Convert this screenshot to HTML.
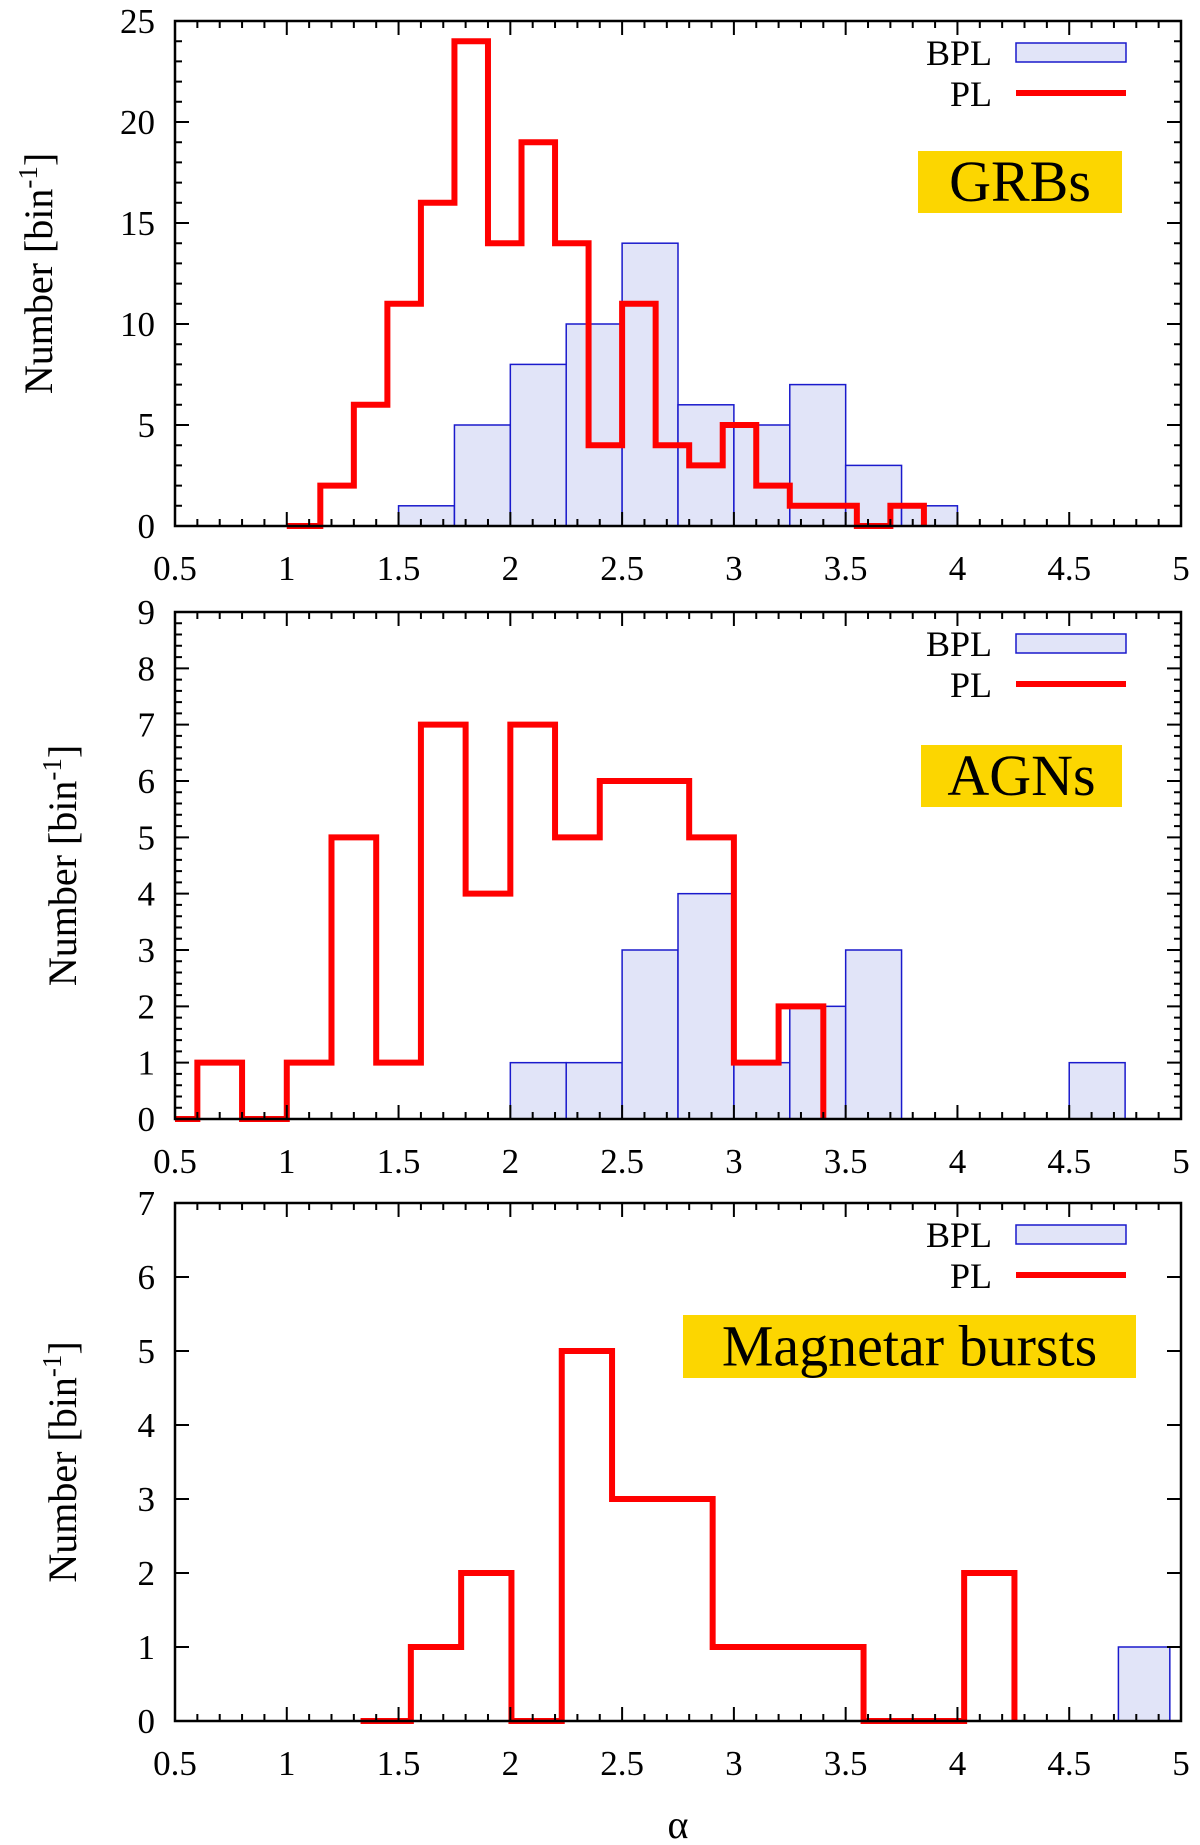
<!DOCTYPE html>
<html><head><meta charset="utf-8"><style>
html,body{margin:0;padding:0;background:#fff}
svg{display:block}
text{font-family:"Liberation Serif",serif;fill:#000}
</style></head><body>
<svg id="chart" width="1200" height="1845" viewBox="0 0 1200 1845" xmlns="http://www.w3.org/2000/svg"></svg>
<script>
// GRBs
const grbPlEdges = [1.0,1.15,1.3,1.45,1.6,1.75,1.9,2.05,2.2,2.35,2.5,2.65,2.8,2.95,3.1,3.25,3.4,3.55,3.7,3.85];
const grbPlCounts = [0,2,6,11,16,24,14,19,14,4,11,4,3,5,2,1,1,0,1];
const grbBplEdges = [1.5,1.75,2.0,2.25,2.5,2.75,3.0,3.25,3.5,3.75,4.0];
const grbBplCounts = [1,5,8,10,14,6,5,7,3,1];
// AGNs
const agnPlEdges = [0.4,0.6,0.8,1.0,1.2,1.4,1.6,1.8,2.0,2.2,2.4,2.6,2.8,3.0,3.2,3.4];
const agnPlCounts = [0,1,0,1,5,1,7,4,7,5,6,6,5,1,2];
const agnBplEdges = [2.0,2.25,2.5,2.75,3.0,3.25,3.5,3.75,4.0,4.25,4.5,4.75];
const agnBplCounts = [1,1,3,4,1,2,3,0,0,0,1];
// Magnetar bursts
const magPlEdges = [1.33,1.555,1.78,2.005,2.23,2.455,2.68,2.905,3.13,3.355,3.58,3.805,4.03,4.255];
const magPlCounts = [0,1,2,0,5,3,3,1,1,1,0,0,2];
const magBplEdges = [4.72,4.95];
const magBplCounts = [1];
// Axes
const xTicks = ["0.5","1","1.5","2","2.5","3","3.5","4","4.5","5"];
const yTicksGrb = ["0","5","10","15","20","25"];
const yTicksAgn = ["0","1","2","3","4","5","6","7","8","9"];
const yTicksMag = ["0","1","2","3","4","5","6","7"];

const svg = document.getElementById('chart');
const NS = 'http://www.w3.org/2000/svg';
const L = 175, R = 1181, XMIN = 0.5, XMAX = 5;
const sx = v => L + (v - XMIN) / (XMAX - XMIN) * (R - L);
function mk(tag, attrs, parent){const e=document.createElementNS(NS,tag);for(const k in attrs)e.setAttribute(k,attrs[k]);(parent||svg).appendChild(e);return e;}

function panel(cfg){
  const g = mk('g',{});
  
  
  const T = cfg.top, B = cfg.bottom, ymax = +cfg.yTicks[cfg.yTicks.length-1];
  const sy = v => B - v / ymax * (B - T);
  const clipId = 'clip-' + cfg.name;
  const cp = mk('clipPath',{id:clipId},g); mk('rect',{x:L,y:T-5,width:R-L,height:B-T+10},cp);
  const bg = mk('g',{'clip-path':'url(#'+clipId+')'},g);
  for(let i=0;i<cfg.bplCounts.length;i++){
    if(cfg.bplCounts[i]<=0) continue;
    const x0=sx(cfg.bplEdges[i]), x1=sx(cfg.bplEdges[i+1]), y=sy(cfg.bplCounts[i]);
    const r = mk('rect',{x:x0,y:y,width:x1-x0,height:B-y,fill:'#e1e4f8',stroke:'#1a1acc','stroke-width':1.5},bg);
    
    
  }
  const e=cfg.plEdges, c=cfg.plCounts;
  let d='M'+sx(e[0])+','+sy(c[0]);
  for(let i=0;i<c.length;i++){
    d+=' L'+sx(e[i])+','+sy(c[i])+' L'+sx(e[i+1])+','+sy(c[i]);
  }
  d+=' L'+sx(e[e.length-1])+','+sy(0);
  const p = mk('path',{d:d,fill:'none',stroke:'#f00','stroke-width':6,'stroke-linejoin':'miter','stroke-linecap':'butt'},bg);
  
  
  const f = mk('rect',{x:L,y:T,width:R-L,height:B-T,fill:'none',stroke:'#000','stroke-width':2.5},g);
  
  
  let td='';
  for(let k=0;k<=45;k++){
    const v = XMIN + k*0.1, x = sx(v), len = (k%5===0)?14:7;
    td+=`M${x},${B}v${-len}M${x},${T}v${len}`;
  }
  for(let i=0;i<cfg.yTicks.length;i++){
    const y=sy(+cfg.yTicks[i]); td+=`M${L},${y}h14M${R},${y}h-14`;
  }
  if(cfg.yMinor){
    for(let v=0; v<=ymax+1e-9; v+=cfg.yMinor){
      const y=sy(v); td+=`M${L},${y}h7M${R},${y}h-7`;
    }
  }
  mk('path',{d:td,stroke:'#000','stroke-width':2,fill:'none'},g);
  xTicks.forEach(t=>{
    const tx = mk('text',{x:sx(+t),y:B+54,'font-size':35,'text-anchor':'middle'},g);
    tx.textContent=t;
    
    
  });
  cfg.yTicks.forEach(t=>{
    const ty = mk('text',{x:L-20,y:sy(+t)+12,'font-size':35,'text-anchor':'end'},g);
    ty.textContent=t;
    
    
  });
  const yc=(T+B)/2;
  const yt = mk('text',{x:cfg.ylabX,y:yc,'font-size':40,'text-anchor':'middle',transform:`rotate(-90 ${cfg.ylabX} ${yc})`},g);
  
  
  yt.appendChild(document.createTextNode('Number [bin'));
  const sup = mk('tspan',{dy:-15,'font-size':27},yt); sup.textContent='-1';
  const cl = mk('tspan',{dy:15},yt); cl.textContent=']';
  const lb = mk('text',{x:992,y:T+44,'font-size':36,'text-anchor':'end'},g); lb.textContent='BPL';
  
  
  const lbr = mk('rect',{x:1016,y:T+22,width:110,height:19,fill:'#e1e4f8',stroke:'#1a1acc','stroke-width':1.5},g);
  
  
  const lp = mk('text',{x:992,y:T+85,'font-size':36,'text-anchor':'end'},g); lp.textContent='PL';
  
  
  const ll = mk('line',{x1:1016,x2:1126,y1:T+72,y2:T+72,stroke:'#f00','stroke-width':6},g);
  
  
  const bx = mk('rect',{x:cfg.badge[0],y:cfg.badge[1],width:cfg.badge[2],height:cfg.badge[3],fill:'#fcd600'},g);
  
  
  const bt = mk('text',{x:cfg.badge[0]+cfg.badge[2]/2,y:cfg.badge[1]+cfg.badge[3]/2+19,'font-size':58,'text-anchor':'middle'},g);
  bt.textContent=cfg.label;
  
  
}

panel({name:'grb-panel',top:21,bottom:526,yTicks:yTicksGrb,yMinor:1,plEdges:grbPlEdges,plCounts:grbPlCounts,bplEdges:grbBplEdges,bplCounts:grbBplCounts,ylabX:52,badge:[918,151,204,62],label:'GRBs'});
panel({name:'agn-panel',top:612,bottom:1119,yTicks:yTicksAgn,yMinor:0.2,plEdges:agnPlEdges,plCounts:agnPlCounts,bplEdges:agnBplEdges,bplCounts:agnBplCounts,ylabX:76,badge:[921,745,201,62],label:'AGNs'});
panel({name:'magnetar-panel',top:1203,bottom:1721,yTicks:yTicksMag,yMinor:0,plEdges:magPlEdges,plCounts:magPlCounts,bplEdges:magBplEdges,bplCounts:magBplCounts,ylabX:76,badge:[683,1315,453,63],label:'Magnetar bursts'});

const xt = mk('text',{x:sx(2.75),y:1838,'font-size':40,'text-anchor':'middle'});
xt.textContent='α';


</script>
</body></html>
